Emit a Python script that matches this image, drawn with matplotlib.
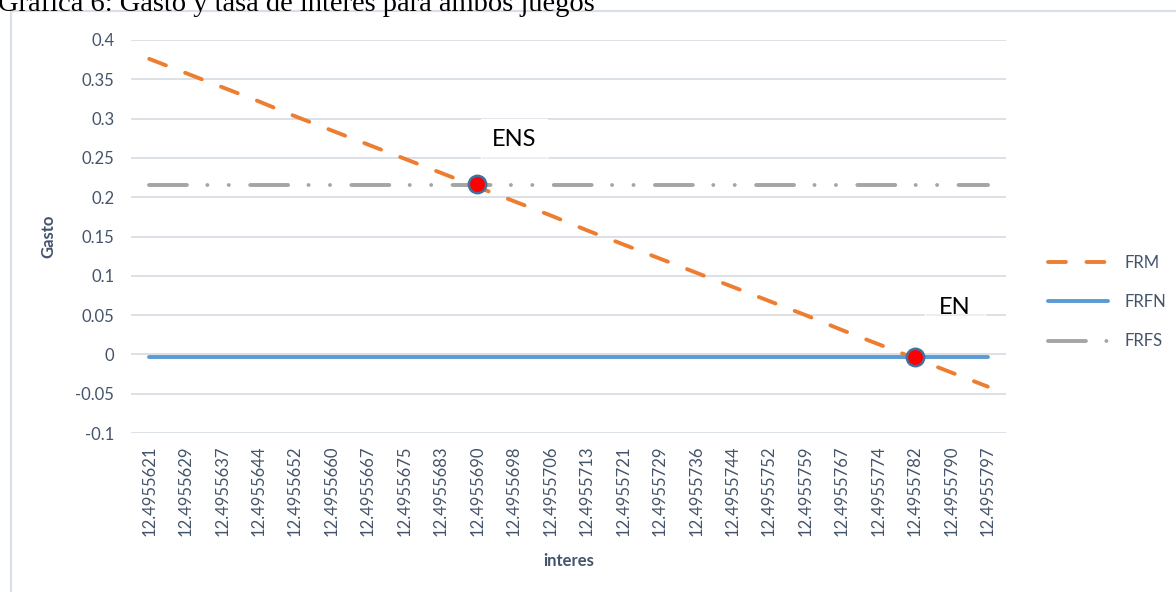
import matplotlib.pyplot as plt
from matplotlib.patches import Rectangle

interes = ['12.4955621', '12.4955629', '12.4955637', '12.4955644', '12.4955652',
           '12.4955660', '12.4955667', '12.4955675', '12.4955683', '12.4955690',
           '12.4955698', '12.4955706', '12.4955713', '12.4955721', '12.4955729',
           '12.4955736', '12.4955744', '12.4955752', '12.4955759', '12.4955767',
           '12.4955774', '12.4955782', '12.4955790', '12.4955797']
frm = [0.376, 0.358, 0.340, 0.322, 0.303, 0.285, 0.267, 0.249, 0.231, 0.213,
       0.195, 0.177, 0.158, 0.140, 0.122, 0.104, 0.086, 0.068, 0.050, 0.031,
       0.013, -0.005, -0.023, -0.041]
frfn = [-0.003] * 24
frfs = [0.215] * 24

# equilibrium points
eq_labels = ['ENS', 'EN']
eq_idx = [9, 21]
eq_y = [0.217, -0.003]

yticks = [-0.1, -0.05, 0, 0.05, 0.1, 0.15, 0.2, 0.25, 0.3, 0.35, 0.4]

txt = '#44546A'
grid = '#D9DEE6'
plt.rcParams['font.family'] = ['Lato', 'DejaVu Sans']

fig = plt.figure(figsize=(11.76, 5.92), dpi=100)
ax = fig.add_axes([131 / 1176, 159 / 592, 875 / 1176, 393 / 592])

x = list(range(len(interes)))
ax.plot(x, frm, color='#ED7D31', lw=2.8, ls=(0, (4.6, 5.3)),
        dash_capstyle='round', label='FRM', zorder=3)
ax.plot(x, frfn, color='#5B9BD5', lw=2.8, solid_capstyle='round',
        label='FRFN', zorder=3)
ax.plot(x, frfs, color='#A5A5A5', lw=2.8,
        ls=(0, (9.75, 5.25, 0.01, 5.5, 0.01, 5.5)),
        dash_capstyle='round', label='FRFS', zorder=2)

ax.plot([x[i] for i in eq_idx], eq_y, 'o', ms=12.5, mfc='#FF0000',
        mec='#41719C', mew=1.8, zorder=5)

# labels for the equilibrium points
ax.text(10.0, 0.273, eq_labels[0], fontsize=17, color='black', ha='center',
        va='center', zorder=1,
        bbox=dict(boxstyle='square,pad=0.45', fc=(1, 1, 1, 0.45), ec='white'))
ax.text(22.1, 0.060, eq_labels[1], fontsize=17, color='black', ha='center',
        va='center', zorder=1,
        bbox=dict(boxstyle='square,pad=0.6', fc=(1, 1, 1, 0.45), ec='white'))

ax.set_xlim(-0.5, len(interes) - 0.5)
ax.set_ylim(-0.1, 0.4)
ax.set_yticks(yticks)
ax.set_yticklabels([f'{v:g}' for v in yticks])
ax.set_xticks(x)
ax.set_xticklabels(interes, rotation=90)
ax.tick_params(length=0, labelsize=12, colors=txt)
ax.tick_params(axis='y', pad=12)
ax.tick_params(axis='x', pad=9)
ax.grid(axis='y', color=grid, lw=1.3, zorder=0)
ax.set_axisbelow(True)
for s in ax.spines.values():
    s.set_visible(False)

ax.set_ylabel('Gasto', fontsize=12, fontweight='bold', color=txt, labelpad=14)
ax.set_xlabel('interes', fontsize=12, fontweight='bold', color=txt, labelpad=12)

leg = ax.legend(loc='center left', bbox_to_anchor=(1033 / 1176, 290 / 592),
                bbox_transform=fig.transFigure, frameon=False, fontsize=12,
                handlelength=3.6, handletextpad=1.0, labelspacing=1.4,
                labelcolor=txt)

# chart frame
fig.patches.append(Rectangle((11 / 1176, -0.05), 1.1, (581 / 592) + 0.05,
                             transform=fig.transFigure, fill=False,
                             ec='#D9DEE8', lw=1.6, clip_on=False))

fig.text(-2 / 1176, 1 - 11 / 592,
         'Gráfica 6: Gasto y tasa de interes para ambos juegos',
         family='Liberation Serif', fontsize=20.5, color='black',
         ha='left', va='baseline')

plt.savefig('out.png', dpi=100)
plt.close()
